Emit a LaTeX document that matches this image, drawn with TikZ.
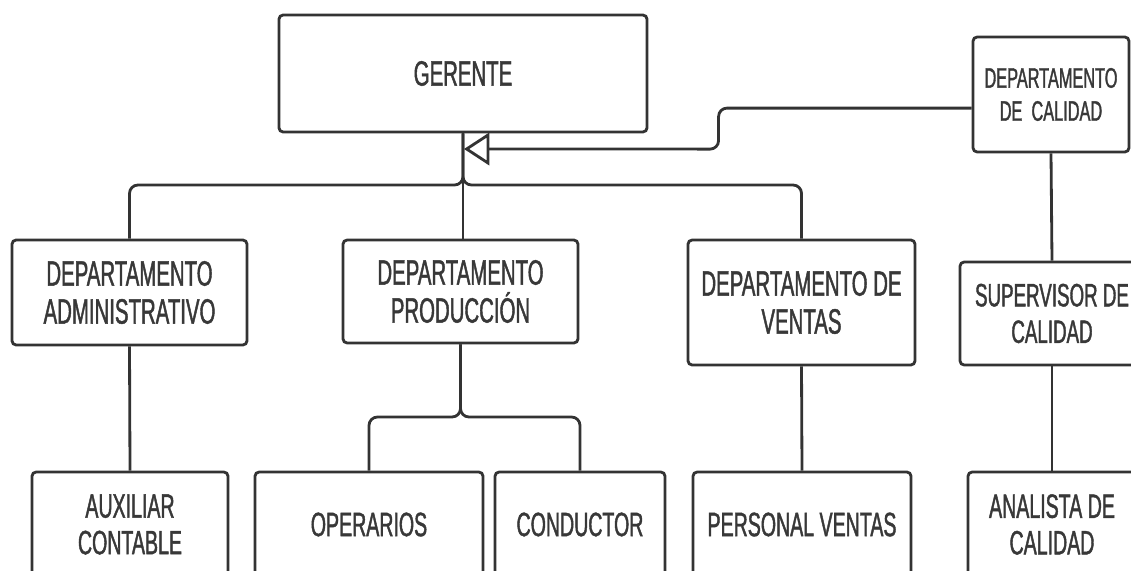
\documentclass[tikz,border=0pt]{standalone}
\usepackage{fontspec}
\setmainfont{Liberation Sans}[FakeStretch=0.58, FakeBold=1.2]
\usetikzlibrary{arrows.meta}
\usepackage{xcolor}
\definecolor{orgline}{HTML}{333333}
\definecolor{orgtext}{HTML}{383838}

\tikzset{
  orgbox/.style={draw=orgline, fill=white, line width=2pt, rounded corners=3pt,
                 text=orgtext, align=center, inner sep=2pt},
  toptxt/.style={font=\fontsize{25}{27}\selectfont},
  qualtxt/.style={font=\fontsize{20}{23.5}\selectfont},
  suptxt/.style={font=\fontsize{23}{26}\selectfont},
  lowtxt/.style={font=\fontsize{24}{26}\selectfont},
  conn/.style={draw=orgline, line width=2pt, rounded corners=6pt},
}

\begin{document}
\begin{tikzpicture}[x=0.025cm, y=-0.025cm]
  \clip (0,0) rectangle (1131,571);
  \fill[white] (0,0) rectangle (1131,571);

  % top level
  \node[orgbox, toptxt, minimum width=9.2cm, minimum height=2.925cm] (gerente) at (463,73.5) {GERENTE};
  \node[orgbox, qualtxt, minimum width=3.9cm, minimum height=2.875cm] (calidad) at (1051,94.5) {DEPARTAMENTO\\DE~~CALIDAD};

  % departments
  \node[orgbox, toptxt, minimum width=5.875cm, minimum height=2.625cm] (admin) at (129.5,292.5) {DEPARTAMENTO\\ADMINISTRATIVO};
  \node[orgbox, toptxt, minimum width=5.875cm, minimum height=2.575cm] (prod) at (460.5,291.5) {DEPARTAMENTO\\PRODUCCIÓN};
  \node[orgbox, toptxt, minimum width=5.675cm, minimum height=3.125cm] (ventas) at (801.5,302.5) {DEPARTAMENTO DE\\VENTAS};
  \node[orgbox, suptxt, minimum width=4.6cm, minimum height=2.575cm] (superv) at (1052,313.5) {SUPERVISOR DE\\CALIDAD};

  % staff
  \node[orgbox, lowtxt, minimum width=4.9cm, minimum height=2.625cm] (auxiliar) at (130,524.5) {AUXILIAR\\CONTABLE};
  \node[orgbox, lowtxt, minimum width=5.7cm, minimum height=2.625cm] (operarios) at (369,524.5) {OPERARIOS};
  \node[orgbox, lowtxt, minimum width=4.25cm, minimum height=2.625cm] (conductor) at (580,524.5) {CONDUCTOR};
  \node[orgbox, lowtxt, minimum width=5.45cm, minimum height=2.625cm] (personal) at (802,524.5) {PERSONAL VENTAS};
  \node[orgbox, lowtxt, minimum width=4.2cm, minimum height=2.625cm] (analista) at (1052,524.5) {ANALISTA DE\\CALIDAD};

  % connectors
  \coordinate (bus) at (463,185);
  \coordinate (split) at (460.5,417);
  \coordinate (garrow) at (464,149);
  \draw[conn] (gerente.south) -- (bus) -| (admin.north);
  \draw[conn] (gerente.south) -- (bus) -| (ventas.north);
  \draw[conn] (gerente.south) -- (gerente.south |- prod.north);
  \draw[conn] (prod.south) -- (split) -| (operarios.north);
  \draw[conn] (prod.south) -- (split) -| (conductor.north);
  \draw[conn] (admin.south) -- (auxiliar.north);
  \draw[conn] (ventas.south) -- (personal.north);
  \draw[conn] (calidad.south) -- (superv.north);
  \draw[conn] (superv.south) -- (analista.north);
  \draw[conn, -{Triangle[open, length=18pt, width=23pt]}]
    ([yshift=-0.34cm]calidad.west) -- ++(-253,0) -- ++(0,41) -- (garrow);
\end{tikzpicture}
\end{document}
